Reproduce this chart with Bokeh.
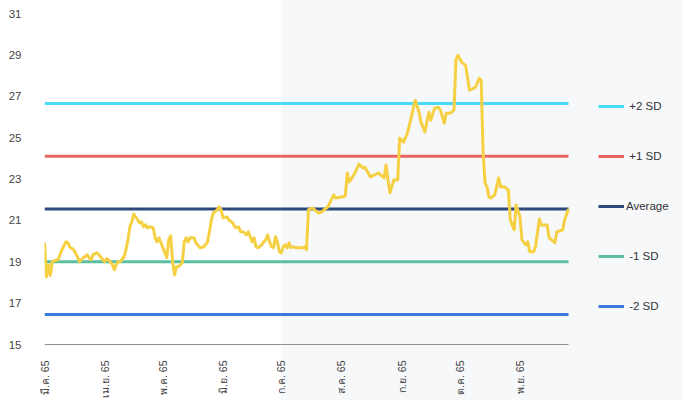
import math
import pandas as pd
from bokeh.plotting import figure
from bokeh.models import Range1d, FixedTicker, Legend, LegendItem, CustomJSTickFormatter
from bokeh.embed import file_html
from bokeh.resources import INLINE

# ---------------- data ----------------
dates = [
    "2022-03-01", "2022-03-02", "2022-03-03", "2022-03-04", "2022-03-05", "2022-03-06", "2022-03-08",
    "2022-03-10", "2022-03-12", "2022-03-13", "2022-03-14", "2022-03-16", "2022-03-18", "2022-03-19",
    "2022-03-21", "2022-03-23", "2022-03-24", "2022-03-25", "2022-03-26", "2022-03-28", "2022-03-29",
    "2022-03-31", "2022-04-01", "2022-04-02", "2022-04-03", "2022-04-05", "2022-04-06", "2022-04-07",
    "2022-04-08", "2022-04-09", "2022-04-11", "2022-04-12", "2022-04-13", "2022-04-14", "2022-04-15",
    "2022-04-16", "2022-04-18", "2022-04-19", "2022-04-20", "2022-04-21", "2022-04-22", "2022-04-23",
    "2022-04-24", "2022-04-26", "2022-04-27", "2022-04-28", "2022-04-29", "2022-05-01", "2022-05-02",
    "2022-05-03", "2022-05-04", "2022-05-05", "2022-05-06", "2022-05-07", "2022-05-08", "2022-05-09",
    "2022-05-10", "2022-05-11", "2022-05-12", "2022-05-13", "2022-05-14", "2022-05-15", "2022-05-17",
    "2022-05-18", "2022-05-20", "2022-05-22", "2022-05-23", "2022-05-24", "2022-05-25", "2022-05-26",
    "2022-05-27", "2022-05-29", "2022-05-30", "2022-05-31", "2022-06-01", "2022-06-03", "2022-06-04",
    "2022-06-06", "2022-06-07", "2022-06-08", "2022-06-09", "2022-06-10", "2022-06-11", "2022-06-12",
    "2022-06-13", "2022-06-14", "2022-06-15", "2022-06-16", "2022-06-17", "2022-06-18", "2022-06-19",
    "2022-06-21", "2022-06-22", "2022-06-23", "2022-06-24", "2022-06-25", "2022-06-26", "2022-06-27",
    "2022-06-28", "2022-06-29", "2022-06-30", "2022-07-01", "2022-07-02", "2022-07-03", "2022-07-04",
    "2022-07-05", "2022-07-06", "2022-07-07", "2022-07-09", "2022-07-10", "2022-07-12", "2022-07-13",
    "2022-07-14", "2022-07-15", "2022-07-17", "2022-07-20", "2022-07-22", "2022-07-23", "2022-07-25",
    "2022-07-28", "2022-07-29", "2022-08-01", "2022-08-03", "2022-08-04", "2022-08-05", "2022-08-08",
    "2022-08-10", "2022-08-12", "2022-08-13", "2022-08-16", "2022-08-20", "2022-08-23", "2022-08-24",
    "2022-08-25", "2022-08-26", "2022-08-28", "2022-08-30", "2022-08-31", "2022-09-02", "2022-09-04",
    "2022-09-06", "2022-09-08", "2022-09-10", "2022-09-11", "2022-09-13", "2022-09-15", "2022-09-16",
    "2022-09-18", "2022-09-20", "2022-09-21", "2022-09-23", "2022-09-24", "2022-09-26", "2022-09-28",
    "2022-09-29", "2022-09-30", "2022-10-02", "2022-10-04", "2022-10-06", "2022-10-09", "2022-10-11",
    "2022-10-12", "2022-10-13", "2022-10-14", "2022-10-15", "2022-10-16", "2022-10-17", "2022-10-19",
    "2022-10-21", "2022-10-22", "2022-10-24", "2022-10-26", "2022-10-27", "2022-10-29", "2022-10-30",
    "2022-11-01", "2022-11-02", "2022-11-04", "2022-11-05", "2022-11-06", "2022-11-08", "2022-11-09",
    "2022-11-11", "2022-11-12", "2022-11-15", "2022-11-16", "2022-11-19", "2022-11-20", "2022-11-23",
    "2022-11-24", "2022-11-26",
]

pe_ratio = [
    19.92, 18.28, 18.86, 18.33, 19.00, 19.05, 19.10,
    19.58, 19.96, 19.92, 19.72, 19.58, 19.24, 19.00,
    19.19, 19.34, 19.19, 19.10, 19.34, 19.43, 19.34,
    19.10, 19.00, 19.14, 19.10, 18.86, 18.61, 18.86,
    19.00, 19.00, 19.24, 19.58, 20.06, 20.69, 20.93,
    21.31, 21.02, 20.88, 20.93, 20.69, 20.78, 20.64,
    20.69, 20.64, 20.16, 19.96, 20.16, 19.68, 19.43,
    19.19, 20.06, 20.25, 19.00, 18.37, 18.76, 18.76,
    18.86, 18.95, 19.96, 20.16, 19.96, 20.16, 20.16,
    19.92, 19.68, 19.72, 19.82, 19.96, 20.45, 21.02,
    21.36, 21.51, 21.65, 21.51, 21.12, 21.17, 21.02,
    20.88, 20.69, 20.64, 20.69, 20.45, 20.45, 20.40,
    20.30, 20.45, 20.21, 19.96, 20.16, 19.72, 19.68,
    19.82, 19.96, 20.06, 20.30, 19.96, 19.72, 19.68,
    20.21, 19.96, 19.48, 19.43, 19.72, 19.82, 19.68,
    19.92, 19.68, 19.72, 19.68, 19.68, 19.68, 19.72,
    19.58, 21.51, 21.60, 21.36, 21.41, 21.51, 21.65,
    22.23, 22.08, 22.13, 22.18, 23.29, 22.86, 23.29,
    23.72, 23.53, 23.58, 23.10, 23.29, 23.05, 23.68,
    22.95, 22.33, 22.95, 22.95, 24.98, 24.78, 25.22,
    25.99, 26.81, 26.23, 25.75, 25.27, 26.23, 25.84,
    26.42, 26.47, 26.33, 25.70, 26.18, 26.18, 26.33,
    28.74, 28.98, 28.64, 28.49, 27.29, 27.43, 27.87,
    27.77, 24.25, 22.81, 22.62, 22.13, 22.08, 22.23,
    23.05, 22.62, 22.62, 22.47, 21.02, 20.54, 21.75,
    21.17, 20.06, 19.82, 19.96, 19.48, 19.48, 19.72,
    21.07, 20.78, 20.78, 20.16, 19.92, 20.45, 20.54,
    21.02, 21.55,
]

band_labels = ["\u00a0+2 SD", "\u00a0+1 SD", "Average", "\u00a0-1 SD", "\u00a0-2 SD"]
band_values = [26.65, 24.10, 21.55, 19.00, 16.45]
band_colors = ["#4adbf6", "#e8665e", "#2c4a7b", "#5bbfa2", "#3e7be0"]

month_starts = ["2022-03-01", "2022-04-01", "2022-05-01", "2022-06-01", "2022-07-01",
                "2022-08-01", "2022-09-01", "2022-10-01", "2022-11-01"]
month_labels = ["มี.ค. 65", "เม.ย. 65", "พ.ค. 65", "มิ.ย. 65", "ก.ค. 65",
                "ส.ค. 65", "ก.ย. 65", "ต.ค. 65", "พ.ย. 65"]
y_ticks = [15, 17, 19, 21, 23, 25, 27, 29, 31]
y_min, y_max = 15, 31
shade_start = "2022-07-01"

# ---------------- layout constants ----------------
W, H = 683, 400
LEFT, TOP, BOTTOM = 44, 13, 55
DATA_W = 524            # pixel width used by the data period
LEGEND_GAP = 30         # gap between end of data area and legend glyphs
LEGEND_BOTTOM = 28      # legend offset from the bottom of the frame

x = pd.to_datetime(dates)
x0, x1 = x[0], x[-1]
frame_w = W - LEFT
# the frame spans the whole width so the legend can live beside the data
x_end = x0 + (x1 - x0) * (frame_w / DATA_W)

p = figure(width=W, height=H, x_axis_type="datetime", output_backend="svg",
           toolbar_location=None,
           x_range=Range1d(x0, x_end), y_range=Range1d(y_min, y_max),
           min_border_left=LEFT, min_border_right=0,
           min_border_top=TOP, min_border_bottom=BOTTOM,
           background_fill_color=None, border_fill_color=None,
           outline_line_color=None)

# page background: white until July, light grey afterwards
frac = (pd.Timestamp(shade_start) - x0) / (x1 - x0)
stop = LEFT + frac * DATA_W
p.styles = {"background": f"linear-gradient(to right, #ffffff {stop:.1f}px, #f7f8fa {stop:.1f}px)"}

items = []
for lab, val, col in zip(band_labels, band_values, band_colors):
    r = p.line(x=[x0, x1], y=[val, val], line_color=col, line_width=3)
    items.append(LegendItem(label=lab, renderers=[r]))

# x axis base line, only under the data period
p.line(x=[x0, x1], y=[y_min, y_min], line_color="#222222", line_width=1)

p.line(x=x, y=pe_ratio, line_color="#f6d043", line_width=3, line_join="round")

p.xgrid.visible = False
p.ygrid.visible = False

tick_ms = [pd.Timestamp(d).value / 1e6 for d in month_starts]
p.xaxis.ticker = FixedTicker(ticks=tick_ms)
p.xaxis.formatter = CustomJSTickFormatter(args=dict(tks=tick_ms, labels=month_labels), code="""
    for (let i = 0; i < tks.length; i++) { if (Math.abs(tks[i] - tick) < 1000) return labels[i]; }
    return "";
""")
p.xaxis.major_label_orientation = math.pi / 2
p.xaxis.major_tick_line_color = None
p.xaxis.minor_tick_line_color = None
p.xaxis.axis_line_color = None
p.xaxis.major_label_standoff = 10

p.yaxis.ticker = FixedTicker(ticks=y_ticks)
p.yaxis.axis_line_color = None
p.yaxis.major_tick_line_color = None
p.yaxis.minor_tick_line_color = None
p.yaxis.major_label_standoff = 17

for ax in (p.xaxis[0], p.yaxis[0]):
    ax.major_label_text_font = "Liberation Sans"
    ax.major_label_text_font_size = "11.5px"
    ax.major_label_text_color = "#444444"
p.xaxis.major_label_text_font_size = "10.5px"

legend = Legend(items=items, location=(DATA_W + LEGEND_GAP, LEGEND_BOTTOM), orientation="vertical",
                glyph_width=26, glyph_height=20, label_height=20, spacing=30,
                label_standoff=2, padding=0, margin=0,
                border_line_color=None, background_fill_alpha=0,
                label_text_font="Liberation Sans", label_text_font_size="11.5px",
                label_text_color="#333333")
p.add_layout(legend, "center")

open("out.html", "w").write(file_html(p, INLINE))
